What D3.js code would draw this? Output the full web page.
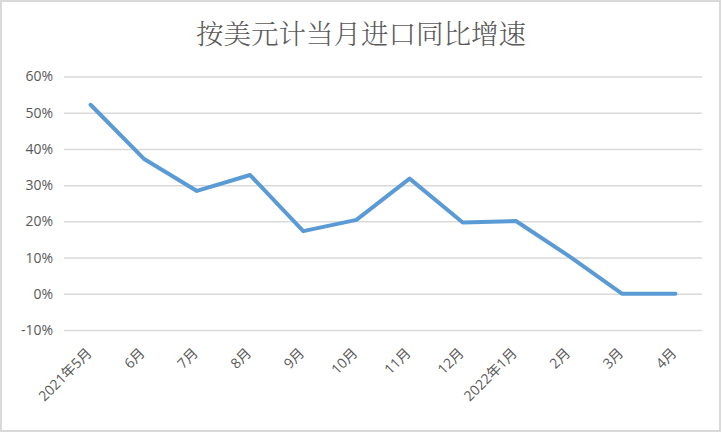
<!DOCTYPE html>
<html>
<head>
<meta charset="utf-8">
<script src="https://cdn.jsdelivr.net/npm/d3@7"></script>
<style>
  body { margin: 0; background: #fff; }
  svg { display: block; }
</style>
</head>
<body>
<svg class="rend_chart"></svg>
<script>
/////////////// data ////////////////
const MONTHS = ["2021年5月", "6月", "7月", "8月", "9月", "10月", "11月", "12月", "2022年1月", "2月", "3月", "4月"];
const IMPORT_YOY = [52.2, 37.3, 28.4, 32.8, 17.3, 20.4, 31.8, 19.7, 20.1, 10.4, 0.0, 0.0];
const Y_TICKS = [-10, 0, 10, 20, 30, 40, 50, 60];
const TITLE = "按美元计当月进口同比增速";

/////////////// layout ////////////////
const W = 722;
const H = 434;
const PLOT_L = 64;
const PLOT_R = 702;
const PLOT_T = 76.5;
const PLOT_B = 330;
const TXT_CLR = "#595959";
const GRID_CLR = "#d9d9d9";
const LINE_CLR = "#5b9bd5";

const SVG = d3.select(".rend_chart")
    .attr("width", W)
    .attr("height", H);

// outer border of the chart area
SVG.append("rect")
    .attr("x", 1)
    .attr("y", 1)
    .attr("width", 719)
    .attr("height", 430)
    .attr("fill", "#fff")
    .attr("stroke", GRID_CLR)
    .attr("stroke-width", 2);

// title
SVG.append("text")
    .attr("x", 361)
    .attr("y", 44)
    .attr("text-anchor", "middle")
    .attr("fill", TXT_CLR)
    .attr("font-family", "'Noto Serif CJK SC', 'Noto Sans CJK SC', sans-serif")
    .attr("font-weight", 300)
    .attr("font-size", 27.5)
    .text(TITLE);

/////////////// scales ////////////////
const SCL_X = d3.scaleBand()
    .domain(MONTHS)
    .range([PLOT_L, PLOT_R]);
const SCL_Y = d3.scaleLinear()
    .domain([-10, 60])
    .range([PLOT_B, PLOT_T]);

// y axis: grid + labels
const Y_AXIS = d3.axisLeft(SCL_Y)
    .tickValues(Y_TICKS)
    .tickSize(-(PLOT_R - PLOT_L))
    .tickPadding(12)
    .tickFormat(d => d + "%");
const Y_GRP = SVG.append("g")
    .attr("transform", `translate(${PLOT_L}, 0)`)
    .call(Y_AXIS);
Y_GRP.select(".domain").remove();
Y_GRP.selectAll(".tick line")
    .attr("stroke", GRID_CLR)
    .attr("stroke-width", 1.5);
Y_GRP.selectAll(".tick text")
    .attr("fill", TXT_CLR)
    .attr("font-family", "'Open Sans', 'Noto Sans', sans-serif")
    .attr("font-size", 14)
    .attr("dx", 1);

// x axis labels, rotated
const X_AXIS = d3.axisBottom(SCL_X)
    .tickSize(0)
    .tickPadding(0);
const X_GRP = SVG.append("g")
    .attr("transform", `translate(0, ${PLOT_B})`)
    .call(X_AXIS);
X_GRP.select(".domain").remove();
X_GRP.selectAll(".tick text")
    .attr("fill", TXT_CLR)
    .attr("font-family", "'Open Sans', 'Noto Sans CJK SC', sans-serif")
    .attr("font-size", 14)
    .attr("text-anchor", "end")
    .attr("dy", 0)
    .attr("transform", "translate(2, 24) rotate(-45)");

/////////////// line ////////////////
const LINE = d3.line()
    .x((d, i) => SCL_X(MONTHS[i]) + SCL_X.bandwidth() / 2)
    .y(d => SCL_Y(d));
SVG.append("path")
    .datum(IMPORT_YOY)
    .attr("d", LINE)
    .attr("fill", "none")
    .attr("stroke", LINE_CLR)
    .attr("stroke-width", 4)
    .attr("stroke-linejoin", "round")
    .attr("stroke-linecap", "round");
</script>
</body>
</html>
